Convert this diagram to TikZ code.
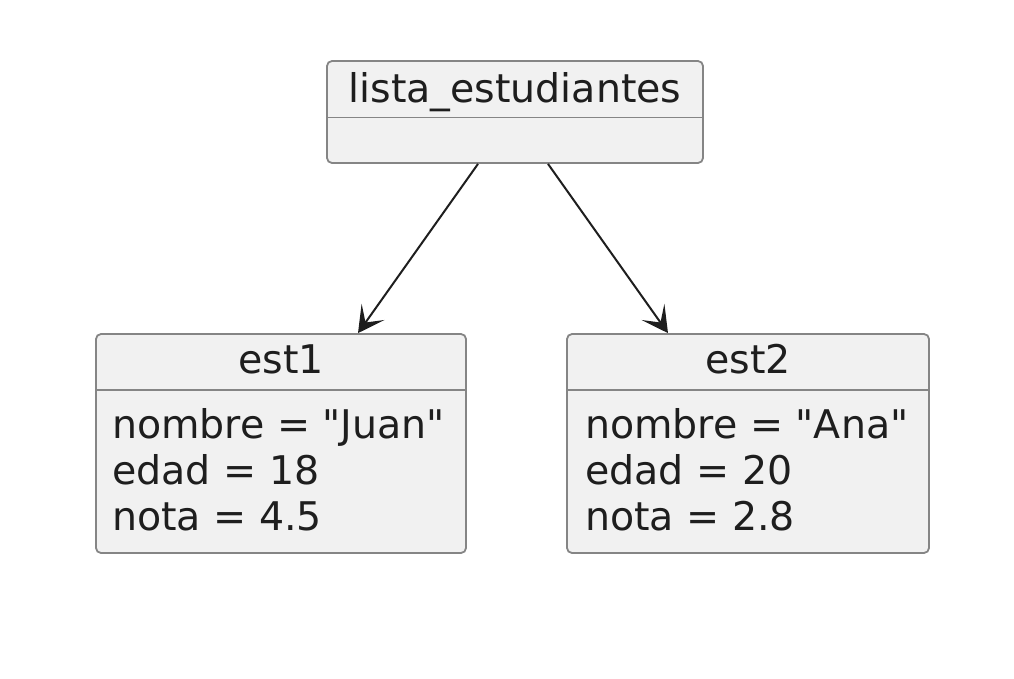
\documentclass[tikz,border=0pt]{standalone}
\usepackage{fontspec}
\setmainfont{DejaVu Sans}[Ligatures=TeXOff]
\usetikzlibrary{arrows.meta}
\definecolor{boxfill}{HTML}{F1F1F1}
\definecolor{boxline}{HTML}{858585}
\definecolor{txtcol}{HTML}{1E1E1E}
\definecolor{arrcol}{HTML}{1E1E1E}
\tikzset{
  obj/.style={draw=boxline, fill=boxfill, line width=1.8pt, rounded corners=5pt, inner sep=0pt},
  divline/.style={draw=boxline, line width=1.8pt},
  txt/.style={inner sep=0pt, text=txtcol, font=\fontsize{39.5}{46}\selectfont},
  link/.style={draw=arrcol, line width=2pt, -{Stealth[length=26pt, width=28pt, inset=13pt]}}
}
\begin{document}
\begin{tikzpicture}[x=1pt, y=-1pt]
\useasboundingbox (0,0) rectangle (1014,678);
% boxes
\node[obj, minimum width=376pt, minimum height=102pt] (top) at (515,112) {};
\node[obj, minimum width=370pt, minimum height=219pt] (est1) at (281,443.5) {};
\node[obj, minimum width=362pt, minimum height=219pt] (est2) at (748,443.5) {};
% dividers
\draw[divline] (top.west |- 0,117.5) -- (top.east |- 0,117.5);
\draw[divline] (est1.west |- 0,390) -- (est1.east |- 0,390);
\draw[divline] (est2.west |- 0,390) -- (est2.east |- 0,390);
% titles
\node[txt, anchor=base] (topname) at (515,102) {lista\_estudiantes};
\node[txt, anchor=base] (est1name) at (281,373) {est1};
\node[txt, anchor=base] (est2name) at (748,373) {est2};
% attributes
\node[txt, anchor=base west] (a1) at (112,438) {nombre = "Juan"};
\node[txt, anchor=base west] (a2) at (112,484) {edad = 18};
\node[txt, anchor=base west] (a3) at (112,530) {nota = 4.5};
\node[txt, anchor=base west] (b1) at (585,438) {nombre = "Ana"};
\node[txt, anchor=base west] (b2) at (585,484) {edad = 20};
\node[txt, anchor=base west] (b3) at (585,530) {nota = 2.8};
% links
\draw[link] ([xshift=-37pt]top.south) -- ([xshift=77pt]est1.north);
\draw[link] ([xshift=33pt]top.south) -- ([xshift=-80pt]est2.north);
\end{tikzpicture}
\end{document}
